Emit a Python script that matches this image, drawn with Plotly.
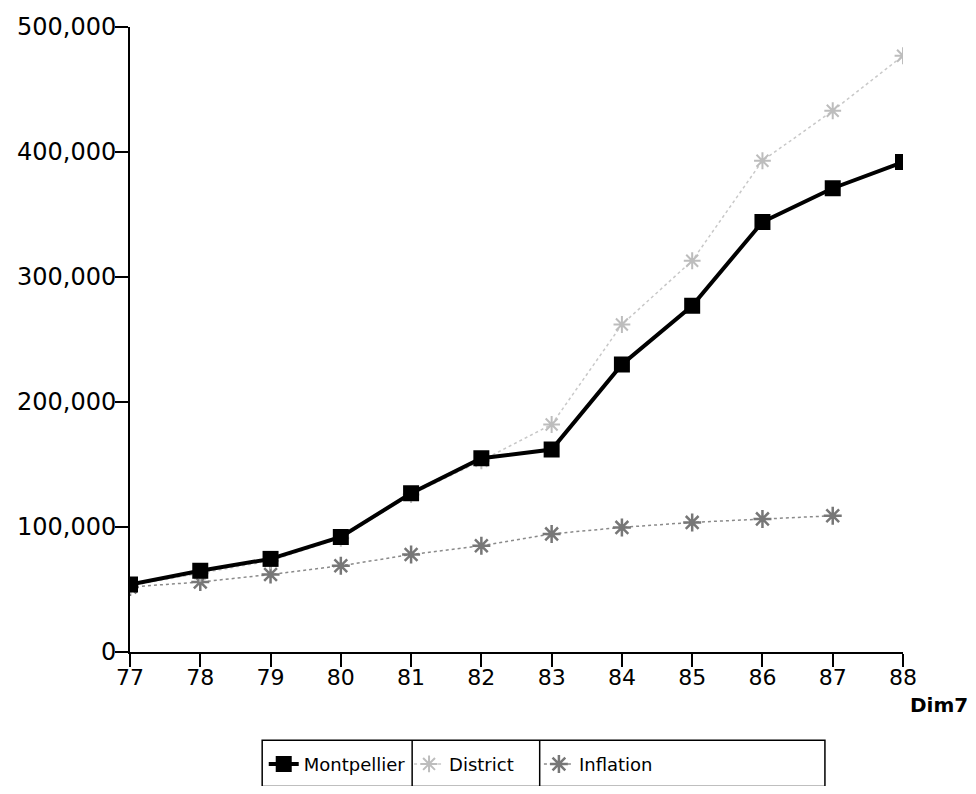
import plotly.graph_objects as go

years = [77, 78, 79, 80, 81, 82, 83, 84, 85, 86, 87, 88]
montpellier = [54000, 65000, 74500, 92000, 127000, 155000, 162000, 230000, 277000, 344000, 371000, 392000]
district = [53000, 63000, 73000, 91000, 126000, 153000, 182000, 262000, 313000, 393000, 433000, 477000]
inflation_years = [77, 78, 79, 80, 81, 82, 83, 84, 85, 86, 87]
inflation = [52000, 56000, 62000, 69000, 78000, 85000, 94500, 99700, 103700, 106500, 109000]

y_ticks = [0, 100000, 200000, 300000, 400000, 500000]
y_labels = ["0", "100,000", "200,000", "300,000", "400,000", "500,000"]

FONT = "DejaVu Sans"

fig = go.Figure()
fig.add_trace(go.Scatter(
    x=inflation_years, y=inflation, name="Inflation", mode="lines+markers", legend="legend3",
    line=dict(color="#8a8a8a", width=1.5, dash="dot"),
    marker=dict(symbol="asterisk-open", size=15, color="#777777", line=dict(width=2.5, color="#777777")),
))
fig.add_trace(go.Scatter(
    x=years, y=district, name="District", mode="lines+markers", legend="legend2",
    line=dict(color="#c8c8c8", width=1.5, dash="dot"),
    marker=dict(symbol="asterisk-open", size=14, color="#bdbdbd", line=dict(width=2, color="#bdbdbd")),
))
fig.add_trace(go.Scatter(
    x=years, y=montpellier, name="Montpellier", mode="lines+markers", legend="legend",
    line=dict(color="black", width=4),
    marker=dict(symbol="square", size=16, color="black"),
))

leg_common = dict(orientation="h", yanchor="top", y=-0.150, xanchor="left",
                  font=dict(size=18, family=FONT), bgcolor="rgba(0,0,0,0)", itemwidth=30)

fig.update_layout(
    width=960, height=778,
    margin=dict(l=122, r=65, t=19, b=134, autoexpand=False),
    plot_bgcolor="white", paper_bgcolor="white",
    font=dict(family=FONT, size=20, color="black"),
    showlegend=True,
    legend=dict(leg_common, x=0.173),
    legend2=dict(leg_common, x=0.361),
    legend3=dict(leg_common, x=0.529),
    xaxis=dict(
        range=[77, 88], tickvals=years, ticktext=[str(y) for y in years],
        showgrid=False, zeroline=False, showline=True, linecolor="black", linewidth=2,
        ticks="outside", ticklen=13, tickwidth=2, tickcolor="black",
        tickfont=dict(size=22, family=FONT), ticklabelstandoff=-8,
    ),
    yaxis=dict(
        range=[0, 500000], tickvals=y_ticks, ticktext=y_labels,
        showgrid=False, zeroline=False, showline=True, linecolor="black", linewidth=2,
        ticks="outside", ticklen=13, tickwidth=2, tickcolor="black",
        tickfont=dict(size=24, family=FONT), ticklabelstandoff=-6,
    ),
    annotations=[dict(
        text="<b>Dim7</b>", xref="paper", yref="paper", x=1.047, y=-0.085,
        xanchor="center", yanchor="middle", showarrow=False,
        font=dict(size=20, family=FONT),
    )],
    shapes=[
        dict(type="rect", xref="paper", yref="paper", x0=0.171, x1=0.899, y0=-0.215, y1=-0.141,
             line=dict(color="black", width=1.5)),
        dict(type="line", xref="paper", yref="paper", x0=0.365, x1=0.365, y0=-0.215, y1=-0.141,
             line=dict(color="black", width=1.5)),
        dict(type="line", xref="paper", yref="paper", x0=0.530, x1=0.530, y0=-0.215, y1=-0.141,
             line=dict(color="black", width=1.5)),
    ],
)

fig.write_html("out.html")
